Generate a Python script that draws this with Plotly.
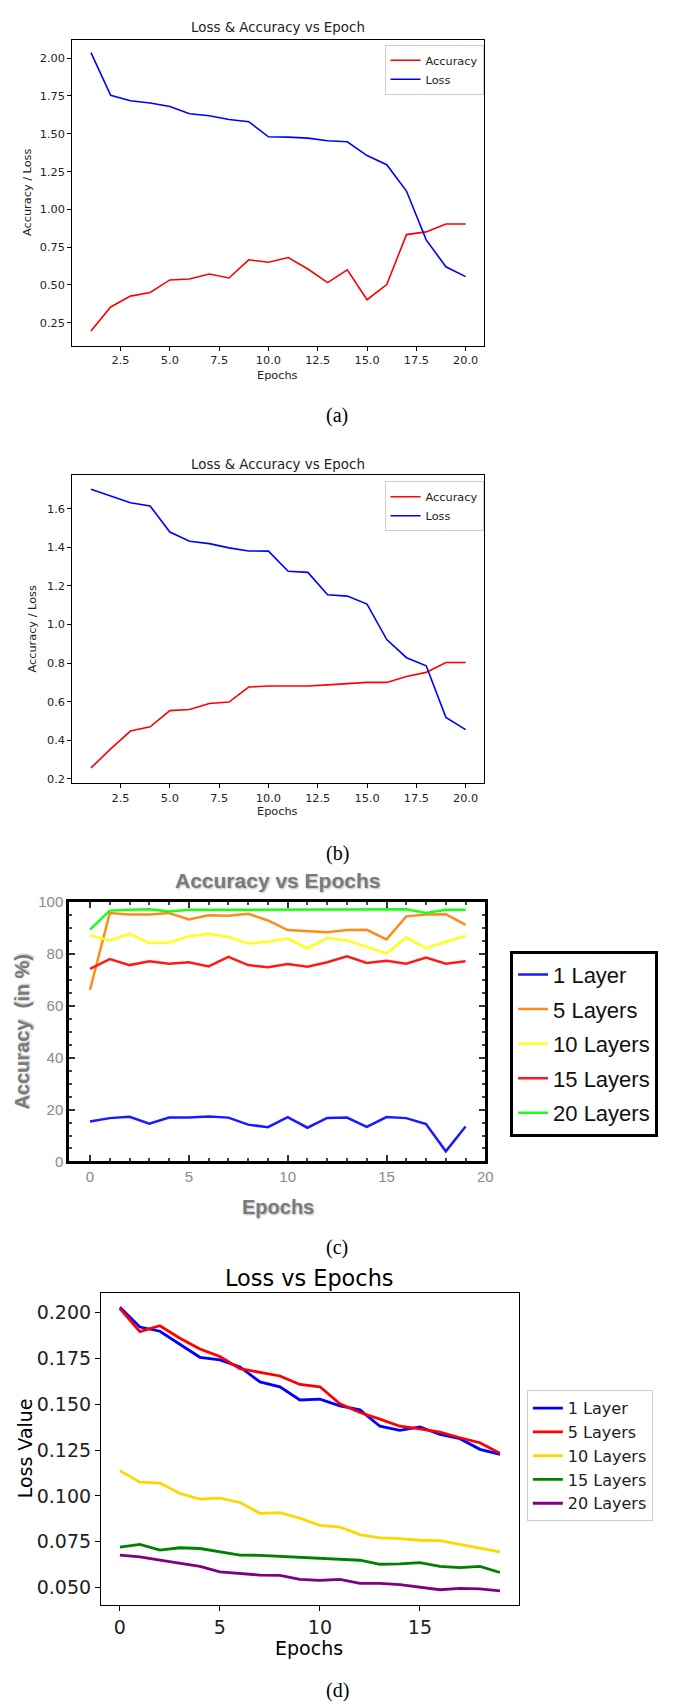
import plotly.graph_objects as go

W, H = 683, 1701

# ---------------- data ----------------
epochs_ab = list(range(1, 21))
a_accuracy = [0.195, 0.354, 0.426, 0.450, 0.533, 0.539, 0.572, 0.546, 0.666, 0.650,
              0.681, 0.605, 0.515, 0.600, 0.402, 0.502, 0.833, 0.851, 0.903, 0.903]
a_loss = [2.037, 1.754, 1.719, 1.704, 1.680, 1.632, 1.619, 1.595, 1.580, 1.480,
          1.478, 1.471, 1.454, 1.447, 1.356, 1.295, 1.121, 0.798, 0.620, 0.555]

b_accuracy = [0.257, 0.356, 0.448, 0.470, 0.554, 0.560, 0.591, 0.598, 0.676, 0.681,
              0.681, 0.681, 0.687, 0.694, 0.700, 0.700, 0.731, 0.752, 0.803, 0.803]
b_loss = [1.701, 1.667, 1.631, 1.614, 1.479, 1.431, 1.419, 1.397, 1.381, 1.380,
          1.276, 1.270, 1.154, 1.147, 1.106, 0.922, 0.828, 0.786, 0.519, 0.455]

epochs_cd = list(range(0, 20))
layer_names = ["1 Layer", "5 Layers", "10 Layers", "15 Layers", "20 Layers"]

c_acc_1 = [15.4, 16.7, 17.2, 14.6, 16.9, 16.9, 17.3, 16.9, 14.2, 13.2,
           17.1, 13.0, 16.8, 16.9, 13.3, 17.1, 16.7, 14.4, 3.9, 13.5]
c_acc_5 = [66.2, 95.8, 95.2, 95.2, 95.8, 93.3, 94.9, 94.7, 95.5, 92.9,
           89.2, 88.9, 88.4, 89.2, 89.3, 85.6, 94.5, 95.2, 95.3, 91.2]
c_acc_10 = [87.2, 85.2, 87.8, 84.2, 84.4, 86.8, 87.8, 86.5, 84.0, 84.7,
            85.9, 82.2, 86.1, 85.2, 82.7, 80.2, 86.3, 82.2, 84.7, 86.9]
c_acc_15 = [74.2, 78.0, 75.7, 77.2, 76.2, 76.8, 75.2, 78.9, 75.7, 74.9,
            76.1, 75.1, 76.8, 79.1, 76.5, 77.4, 76.2, 78.6, 76.2, 77.2]
c_acc_20 = [89.4, 96.7, 97.0, 97.2, 96.4, 97.0, 97.0, 97.0, 97.0, 97.0,
            97.2, 97.0, 97.0, 97.0, 97.0, 97.0, 97.2, 95.8, 97.0, 97.0]

d_loss_1 = [0.2029, 0.1921, 0.1898, 0.1828, 0.1756, 0.1742, 0.1703, 0.1622, 0.1595, 0.1523,
            0.1528, 0.1491, 0.1469, 0.1380, 0.1357, 0.1376, 0.1335, 0.1312, 0.1254, 0.1227]
d_loss_5 = [0.2022, 0.1896, 0.1928, 0.1860, 0.1801, 0.1760, 0.1694, 0.1676, 0.1654, 0.1608,
            0.1595, 0.1502, 0.1455, 0.1419, 0.1380, 0.1366, 0.1348, 0.1317, 0.1290, 0.1233]
d_loss_10 = [0.1138, 0.1075, 0.1070, 0.1013, 0.0982, 0.0988, 0.0964, 0.0905, 0.0909, 0.0878,
             0.0839, 0.0830, 0.0789, 0.0771, 0.0767, 0.0758, 0.0756, 0.0735, 0.0713, 0.0694]
d_loss_15 = [0.0720, 0.0735, 0.0704, 0.0717, 0.0713, 0.0695, 0.0677, 0.0676, 0.0670, 0.0665,
             0.0660, 0.0654, 0.0649, 0.0627, 0.0629, 0.0636, 0.0615, 0.0609, 0.0615, 0.0582]
d_loss_20 = [0.0677, 0.0667, 0.0649, 0.0634, 0.0615, 0.0586, 0.0579, 0.0568, 0.0566, 0.0545,
             0.0539, 0.0545, 0.0523, 0.0523, 0.0516, 0.0500, 0.0488, 0.0495, 0.0493, 0.0482]

c_colors = ["#1a1aff", "#ff8c1a", "#ffff1a", "#ff1a1a", "#1aff1a"]
d_colors = ["#0000ff", "#ff0000", "#ffd700", "#008000", "#800080"]

# ---------------- helpers ----------------
def px_x(x):
    return x / W

def px_y(y):
    return 1 - y / H

MPL = "DejaVu Sans"
MATH = "Liberation Sans"
SERIF = "Liberation Serif"

fig = go.Figure()

# panel (a)
fig.add_trace(go.Scatter(x=epochs_ab, y=a_accuracy, mode="lines", name="Accuracy",
                         line=dict(color="#ff0000", width=1.6), xaxis="x", yaxis="y",
                         legend="legend", legendgroup="a1"))
fig.add_trace(go.Scatter(x=epochs_ab, y=a_loss, mode="lines", name="Loss",
                         line=dict(color="#0000ff", width=1.6), xaxis="x", yaxis="y",
                         legend="legend", legendgroup="a2"))
# panel (b)
fig.add_trace(go.Scatter(x=epochs_ab, y=b_accuracy, mode="lines", name="Accuracy",
                         line=dict(color="#ff0000", width=1.6), xaxis="x2", yaxis="y2",
                         legend="legend2", legendgroup="b1"))
fig.add_trace(go.Scatter(x=epochs_ab, y=b_loss, mode="lines", name="Loss",
                         line=dict(color="#0000ff", width=1.6), xaxis="x2", yaxis="y2",
                         legend="legend2", legendgroup="b2"))
# panel (c)
for i, (nm, vals) in enumerate(zip(layer_names, [c_acc_1, c_acc_5, c_acc_10, c_acc_15, c_acc_20])):
    fig.add_trace(go.Scatter(x=epochs_cd, y=vals, mode="lines", name=nm,
                             line=dict(color=c_colors[i], width=2.5), xaxis="x3", yaxis="y3",
                             legend="legend3", legendgroup="c%d" % i))
# panel (d)
for i, (nm, vals) in enumerate(zip(layer_names, [d_loss_1, d_loss_5, d_loss_10, d_loss_15, d_loss_20])):
    fig.add_trace(go.Scatter(x=epochs_cd, y=vals, mode="lines", name=nm,
                             line=dict(color=d_colors[i], width=2.8), xaxis="x4", yaxis="y4",
                             legend="legend4", legendgroup="d%d" % i))

def mpl_axis(dom, rng, dtick, fmt, size, anchor, tl=4):
    return dict(domain=dom, range=rng, dtick=dtick, tick0=0, tickformat=fmt,
                showgrid=False, zeroline=False, showline=True, linecolor="#000000",
                linewidth=1, mirror=True, ticks="outside", ticklen=tl, tickwidth=1,
                tickcolor="#000000", anchor=anchor,
                tickfont=dict(family=MPL, size=size, color="#222222"))

ab_x = [px_x(65), px_x(482)]
fig.update_layout(
    xaxis=mpl_axis(ab_x, [0.05, 20.95], 2.5, ".1f", 11.3, "y"),
    yaxis=mpl_axis([px_y(332), px_y(23)], [0.098, 2.122], 0.25, ".2f", 11.3, "x"),
    xaxis2=mpl_axis(ab_x, [0.05, 20.95], 2.5, ".1f", 11.3, "y2"),
    yaxis2=mpl_axis([px_y(774), px_y(463)], [0.1775, 1.7725], 0.2, ".1f", 11.3, "x2"),
    xaxis4=mpl_axis([px_x(94), px_x(517)], [-0.95, 19.95], 5, "d", 19, "y4", tl=5),
    yaxis4=mpl_axis([px_y(1604), px_y(1289)], [0.0405, 0.2106], 0.025, ".3f", 19, "x4", tl=5),
)

def math_axis(dom, rng, dtick, mdtick, anchor):
    return dict(domain=dom, range=rng, dtick=dtick, tick0=0, showgrid=False, zeroline=False,
                showline=True, linecolor="#000000", linewidth=3, mirror="allticks",
                ticks="inside", ticklen=6, tickwidth=2, tickcolor="#333333", anchor=anchor,
                tickfont=dict(family=MATH, size=15, color="#8a8a8a"),
                minor=dict(dtick=mdtick, tick0=0, ticks="inside", ticklen=3, tickwidth=2,
                           tickcolor="#444444", showgrid=False))

fig.update_layout(
    xaxis3=math_axis([px_x(62), px_x(483)], [-1.05, 20], 5, 1, "y3"),
    yaxis3=math_axis([px_y(1156), px_y(894)], [0, 100], 20, 5, "x3"),
)

def mpl_legend(x, y, size):
    return dict(x=px_x(x), y=px_y(y), xanchor="left", yanchor="top",
                bordercolor="#cccccc", borderwidth=1, bgcolor="rgba(255,255,255,0.8)",
                font=dict(family=MPL, size=size, color="#222222"), tracegroupgap=0,
                itemwidth=30)

fig.update_layout(
    legend=mpl_legend(381, 28, 11.3),
    legend2=mpl_legend(381, 469, 11.3),
    legend4=mpl_legend(525, 1387, 16),
    legend3=dict(x=px_x(508), y=px_y(943), xanchor="left", yanchor="top",
                 bordercolor="#000000", borderwidth=3, bgcolor="#ffffff",
                 font=dict(family=MATH, size=22, color="#111111"), tracegroupgap=3,
                 itemwidth=30),
)

ann = []
def text(x, y, s, family, size, color="#222222", angle=0, bold=False, shadow=None):
    f = dict(family=family, size=size, color=color)
    if bold:
        f["weight"] = "bold"
    if shadow:
        f["shadow"] = shadow
    ann.append(dict(x=px_x(x), y=px_y(y), xref="paper", yref="paper", text=s,
                    showarrow=False, xanchor="center", yanchor="middle",
                    textangle=angle, font=f))

# panel (a)
text(273, 11, "Loss & Accuracy vs Epoch", MPL, 13.4)
text(273, 362, "Epochs", MPL, 11.3)
text(19, 177, "Accuracy / Loss", MPL, 11.3, angle=-90)
text(333, 403, "(a)", SERIF, 20, color="#000000")
# panel (b)
text(273, 452, "Loss & Accuracy vs Epoch", MPL, 13.4)
text(273, 803, "Epochs", MPL, 11.3)
text(25, 618, "Accuracy / Loss", MPL, 11.3, angle=-90)
text(333, 845, "(b)", SERIF, 20, color="#000000")
# panel (c)
text(273, 872, "Accuracy vs Epochs", MATH, 21, color="#7a7a7a", bold=True,
     shadow="1px 1px 2px #bbbbbb")
text(273, 1202, "Epochs", MATH, 20, color="#7a7a7a", bold=True, shadow="1px 1px 2px #bbbbbb")
text(14, 1025, "Accuracy\u00a0 (in %)", MATH, 20, color="#7a7a7a", angle=-90, bold=True,
     shadow="1px 1px 2px #bbbbbb")
text(333, 1243, "(c)", SERIF, 20, color="#000000")
# panel (d)
text(305, 1274, "Loss vs Epochs", MPL, 22.4, color="#000000")
text(305, 1647, "Epochs", MPL, 19, color="#000000")
text(17, 1446, "Loss Value", MPL, 19, color="#000000", angle=-90)
text(333, 1690, "(d)", SERIF, 20, color="#000000")

fig.update_layout(width=W, height=H, margin=dict(l=0, r=0, t=0, b=0),
                  paper_bgcolor="#ffffff", plot_bgcolor="#ffffff",
                  annotations=ann, showlegend=True)

fig.write_html("out.html")
